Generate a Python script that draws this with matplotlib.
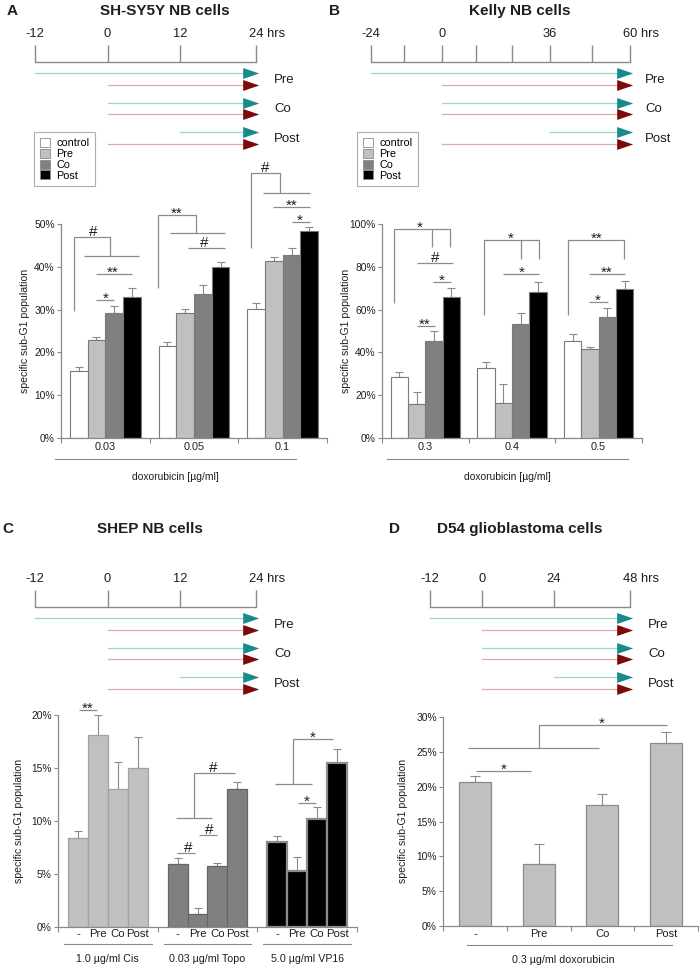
import numpy as np
import matplotlib
matplotlib.use('Agg')
import matplotlib.pyplot as plt
from matplotlib.patches import Patch
from matplotlib.lines import Line2D
from matplotlib.ticker import PercentFormatter, FixedLocator, NullFormatter, FixedFormatter
from matplotlib.transforms import blended_transform_factory

W, H = 700, 969
plt.rcParams['font.family'] = ['Liberation Sans', 'DejaVu Sans']

GRAY = '#8a8a8a'
SIG = '#8c8c8c'
TEXT = '#1e1e1e'
TEAL, TEAL_LINE = '#178a8a', '#9fd4d4'
RED, RED_LINE = '#7d0a0a', '#d9abab'

# ---------------- data ----------------
treatments = ['control', 'Pre', 'Co', 'Post']
treat_colors = ['white', '#c0c0c0', '#808080', 'black']

a_doses = ['0.03', '0.05', '0.1']
a_mean = [[15.6, 22.9, 29.2, 33.0], [21.5, 29.2, 33.6, 40.0], [30.2, 41.3, 42.8, 48.4]]
a_err = [[1.1, 0.8, 1.6, 2.0], [0.9, 0.9, 2.1, 1.1], [1.3, 1.1, 1.5, 0.9]]

b_doses = ['0.3', '0.4', '0.5']
b_mean = [[28.5, 15.9, 45.3, 65.7], [32.6, 16.4, 53.3, 68.2], [45.5, 41.5, 56.4, 69.5]]
b_err = [[2.2, 5.6, 4.7, 4.4], [2.9, 8.7, 5.1, 4.7], [3.0, 1.0, 4.2, 4.0]]

c_drugs = ['1.0 \u00b5g/ml Cis', '0.03 \u00b5g/ml Topo', '5.0 \u00b5g/ml VP16']
c_cats = ['-', 'Pre', 'Co', 'Post']
c_mean = [[8.4, 18.1, 13.0, 15.0], [5.9, 1.2, 5.8, 13.0], [8.0, 5.3, 10.2, 15.5]]
c_err = [[0.7, 1.9, 2.6, 2.9], [0.6, 0.6, 0.25, 0.7], [0.6, 1.3, 1.1, 1.3]]
c_colors = ['#c0c0c0', '#808080', 'black']
c_edges = ['#a2a2a2', '#666666', '#8c8c8c']

d_cats = ['-', 'Pre', 'Co', 'Post']
d_mean = [20.6, 8.9, 17.3, 26.3]
d_err = [1.0, 2.9, 1.7, 1.6]

# treatment schedules (hours)
a_hours = [-12, 0, 12, 24]
b_hours = [-24, -12, 0, 12, 24, 36, 48, 60]
b_labeled = [-24, 0, 36, 60]
d_hours = [-12, 0, 24, 48]
rows = ['Pre', 'Co', 'Post']
a_teal_start = [-12, 0, 12]
b_teal_start = [-24, 0, 36]
d_teal_start = [-12, 0, 24]

# significance brackets (x in group units, y in %)
a_sig_lines = [
    ([-0.353, -0.353, 0.053, 0.053], [29.6, 47.0, 47.0, 42.6]),
    ([-0.241, 0.380], [42.6, 42.6]),
    ([-0.105, 0.301], [38.3, 38.3]),
    ([-0.105, 0.098], [32.3, 32.3]),
    ([0.594, 0.594, 1.022, 1.022], [35.0, 52.2, 52.2, 47.9]),
    ([0.729, 1.350], [47.9, 47.9]),
    ([0.932, 1.350], [44.4, 44.4]),
    ([1.643, 1.643, 1.970, 1.970], [44.4, 61.8, 61.8, 57.2]),
    ([1.778, 2.308], [57.2, 57.2]),
    ([1.891, 2.308], [54.0, 54.0]),
    ([2.105, 2.308], [50.5, 50.5]),
]
a_sig_text = [(-0.139, 47.0, '#'), (0.086, 38.3, '**'), (0.0, 32.3, '*'),
              (0.808, 52.2, '**'), (1.113, 44.4, '#'), (1.80, 61.8, '#'),
              (2.105, 54.0, '**'), (2.195, 50.5, '*')]

b_sig_lines = [
    ([-0.362, -0.362, 0.285, 0.285], [63.0, 97.6, 97.6, 89.3]),
    ([0.077, 0.077], [97.6, 89.3]),
    ([-0.096, 0.319], [81.8, 81.8]),
    ([0.088, 0.296], [72.9, 72.9]),
    ([-0.096, 0.112], [52.2, 52.2]),
    ([0.677, 0.677, 1.311, 1.311], [57.6, 92.5, 92.5, 83.6]),
    ([1.104, 1.104], [92.5, 83.6]),
    ([0.896, 1.311], [76.8, 76.8]),
    ([1.646, 1.646, 2.292, 2.292], [57.6, 92.5, 92.5, 83.6]),
    ([1.888, 2.304], [76.8, 76.8]),
    ([1.888, 2.108], [63.4, 63.4]),
]
b_sig_text = [(-0.062, 97.6, '*'), (0.112, 81.8, '#'), (0.192, 72.9, '*'),
              (-0.004, 52.2, '**'), (0.988, 92.5, '*'), (1.115, 76.8, '*'),
              (1.981, 92.5, '**'), (2.096, 76.8, '**'), (1.992, 63.4, '*')]

c_sig_lines = [
    ([-0.289, -0.109], [20.5, 20.5]),
    ([0.684, 1.045], [10.33, 10.33]),
    ([0.865, 0.865, 1.276], [10.33, 14.5, 14.5]),
    ([0.694, 0.875], [7.0, 7.0]),
    ([0.915, 1.095], [8.66, 8.66]),
    ([1.677, 2.048], [13.45, 13.45]),
    ([1.858, 1.858, 2.259], [13.45, 17.7, 17.7]),
    ([1.908, 2.089], [11.7, 11.7]),
]
c_sig_text = [(-0.199, 20.5, '**'), (1.055, 14.5, '#'), (0.804, 7.0, '#'),
              (1.015, 8.66, '#'), (2.058, 17.7, '*'), (1.998, 11.7, '*')]

d_sig_lines = [
    ([0.016, 0.886], [22.3, 22.3]),
    ([-0.111, 1.946], [25.5, 25.5]),
    ([1.013, 1.013, 3.006], [25.5, 28.9, 28.9]),
]
d_sig_text = [(0.459, 22.3, '*'), (1.994, 28.9, '*')]


# ---------------- helpers ----------------
def px_axes(fig, left, top, right, bottom):
    return fig.add_axes([left / W, 1 - bottom / H, (right - left) / W, (bottom - top) / H])


def ftext(fig, x, y, s, **kw):
    kw.setdefault('color', TEXT)
    return fig.text(x / W, 1 - y / H, s, **kw)


def fline(fig, x0, x1, y):
    fig.add_artist(Line2D([x0 / W, x1 / W], [1 - y / H] * 2, transform=fig.transFigure,
                          color=GRAY, lw=0.8))


def piecewise(hours, px):
    h = np.asarray(hours, float)
    p = np.asarray(px, float)
    s0 = (p[1] - p[0]) / (h[1] - h[0])
    s1 = (p[-1] - p[-2]) / (h[-1] - h[-2])
    hh = np.concatenate([[h[0] - 1000], h, [h[-1] + 1000]])
    pp = np.concatenate([[p[0] - 1000 * s0], p, [p[-1] + 1000 * s1]])
    return (lambda x: np.interp(x, hh, pp)), (lambda y: np.interp(y, pp, hh))


ARROW = [(-2, -0.82), (0.4, 0), (-2, 0.82)]


def timeline(fig, hours, px, labeled, top, teal_start, label_x):
    fwd, inv = piecewise(hours, px)
    ax = fig.add_axes([0, 0, 1, 1], facecolor='none')
    ax.set_xscale('function', functions=(fwd, inv))
    ax.set_xlim(inv(0), inv(W))
    ax.set_ylim(H, 0)
    ax.axis('off')
    base = top + 28
    ax.plot([hours[0], hours[-1]], [base, base], color=GRAY, lw=1)
    ax.vlines(hours, top + 11, base, color=GRAY, lw=1)
    for h in labeled:
        if h == hours[-1]:
            ax.annotate(f'{h} hrs', (h, top), xytext=(-5.2, 0), textcoords='offset points',
                        ha='left', va='center', fontsize=9.3, color=TEXT)
        else:
            ax.text(h, top, str(h), ha='center', va='center', fontsize=9.3, color=TEXT)
    end = hours[-1]
    for i, (name, ts) in enumerate(zip(rows, teal_start)):
        y1 = base + 11 + i * 29.5
        y2 = y1 + 11.5
        ax.plot([ts, end], [y1, y1], color=TEAL_LINE, lw=0.9)
        ax.plot([0, end], [y2, y2], color=RED_LINE, lw=0.9)
        ax.plot([end], [y1], marker=ARROW, ms=19.2, color=TEAL, mew=0, ls='none')
        ax.plot([end], [y2], marker=ARROW, ms=19.2, color=RED, mew=0, ls='none')
        ftext(fig, label_x, (y1 + y2) / 2 + 1, name, fontsize=9.5, ha='left', va='center')
    return ax


def style_bar_axes(ax, ymax, ystep, ngroups_edges):
    for s in ('top', 'right'):
        ax.spines[s].set_visible(False)
    for s in ('left', 'bottom'):
        ax.spines[s].set_color(GRAY)
        ax.spines[s].set_linewidth(0.9)
    ax.set_ylim(0, ymax)
    ax.set_xlim(ngroups_edges[0], ngroups_edges[-1])
    ax.set_yticks(np.arange(0, ymax + 0.1, ystep))
    ax.yaxis.set_major_formatter(PercentFormatter(decimals=0))
    ax.tick_params(axis='y', length=3, width=0.8, color=GRAY, labelsize=7.4, pad=1.5,
                   labelcolor=TEXT)
    ax.xaxis.set_major_locator(FixedLocator(ngroups_edges))
    ax.xaxis.set_major_formatter(NullFormatter())
    ax.tick_params(axis='x', which='major', length=3.5, width=0.8, color=GRAY)
    ax.tick_params(axis='x', which='minor', length=0, labelcolor=TEXT)


def draw_sig(ax, lines, texts):
    for xs, ys in lines:
        ax.plot(xs, ys, color=SIG, lw=0.9, clip_on=False, solid_capstyle='butt')
    for x, y, s in texts:
        dy = -2.0 if '*' in s else 0.8
        ax.annotate(s, (x, y), xytext=(0, dy), textcoords='offset points', ha='center',
                    va='baseline', fontsize=11, color=TEXT, annotation_clip=False)


def grouped(ax, means, errs, width):
    means = np.asarray(means)
    errs = np.asarray(errs)
    ng, nb = means.shape
    for k in range(nb):
        x = np.arange(ng) + (k - (nb - 1) / 2) * width
        ax.errorbar(x, means[:, k], yerr=[np.zeros(ng), errs[:, k]], fmt='none',
                    ecolor=GRAY, elinewidth=0.8, capsize=3, capthick=0.8, zorder=1)
        ax.bar(x, means[:, k], width, color=treat_colors[k], edgecolor='#7a7a7a',
               linewidth=0.8, zorder=2)


fig = plt.figure(figsize=(W / 100, H / 100), dpi=100, facecolor='white')

# ---------------- panel titles ----------------
for x, y, s in [(12, 11, 'A'), (335, 11, 'B'), (8, 529, 'C'), (394, 529, 'D')]:
    ftext(fig, x, y, s, fontsize=11, fontweight='bold', ha='center', va='center')
for x, y, s in [(165, 11, 'SH-SY5Y NB cells'), (520, 11, 'Kelly NB cells'),
                (150, 529, 'SHEP NB cells'), (520, 529, 'D54 glioblastoma cells')]:
    ftext(fig, x, y, s, fontsize=11, fontweight='bold', ha='center', va='center')

# ---------------- timelines ----------------
timeline(fig, a_hours, [35, 107.5, 180, 256], a_hours, 34, a_teal_start, 274)
timeline(fig, b_hours, [371, 404, 442, 476, 512, 550, 592, 630], b_labeled, 34,
         b_teal_start, 645)
timeline(fig, a_hours, [35, 107.5, 180, 256], a_hours, 579, a_teal_start, 274)
timeline(fig, d_hours, [430, 482, 554, 630], d_hours, 579, d_teal_start, 648)

# ---------------- legends ----------------
handles = [Patch(facecolor=c, edgecolor='#8a8a8a', linewidth=0.6) for c in treat_colors]
for lx in (34, 357):
    leg = fig.legend(handles, treatments, loc='upper left',
                     bbox_to_anchor=(lx / W, 1 - 132 / H), frameon=True, fancybox=False,
                     edgecolor='#9a9a9a', fontsize=7.8, handlelength=0.9, handleheight=0.9,
                     handletextpad=0.6, labelspacing=0.05, borderpad=0.55,
                     borderaxespad=0)
    leg.get_frame().set_linewidth(0.8)

# ---------------- panel A ----------------
ax = px_axes(fig, 61, 224, 327, 438)
style_bar_axes(ax, 50, 10, [-0.5, 0.5, 1.5, 2.5])
grouped(ax, a_mean, a_err, 0.2)
ax.xaxis.set_minor_locator(FixedLocator(range(len(a_doses))))
ax.xaxis.set_minor_formatter(FixedFormatter(a_doses))
ax.tick_params(axis='x', which='minor', labelsize=7.8, pad=3)
draw_sig(ax, a_sig_lines, a_sig_text)
fline(fig, 55, 296, 459)
ftext(fig, 175, 477, 'doxorubicin [\u00b5g/ml]', fontsize=7.4, ha='center', va='center')
ftext(fig, 25, 331, 'specific sub-G1 population', fontsize=7.6, rotation=90,
      ha='center', va='center')

# ---------------- panel B ----------------
ax = px_axes(fig, 382, 224, 642, 438)
style_bar_axes(ax, 100, 20, [-0.5, 0.5, 1.5, 2.5])
grouped(ax, b_mean, b_err, 0.2)
ax.xaxis.set_minor_locator(FixedLocator(range(len(b_doses))))
ax.xaxis.set_minor_formatter(FixedFormatter(b_doses))
ax.tick_params(axis='x', which='minor', labelsize=7.8, pad=3)
draw_sig(ax, b_sig_lines, b_sig_text)
fline(fig, 387, 628, 459)
ftext(fig, 507, 477, 'doxorubicin [\u00b5g/ml]', fontsize=7.4, ha='center', va='center')
ftext(fig, 346, 331, 'specific sub-G1 population', fontsize=7.6, rotation=90,
      ha='center', va='center')

# ---------------- panel C ----------------
ax = px_axes(fig, 58, 715, 357, 927)
style_bar_axes(ax, 20, 5, [-0.5, 0.5, 1.5, 2.5])
cm = np.asarray(c_mean)
ce = np.asarray(c_err)
xs_all, labels_all = [], []
for g in range(len(c_drugs)):
    x = g + (np.arange(4) - 1.5) * 0.2
    ax.errorbar(x, cm[g], yerr=[np.zeros(4), ce[g]], fmt='none', ecolor=GRAY,
                elinewidth=0.8, capsize=3, capthick=0.8, zorder=1)
    lw = 1.6 if c_colors[g] == 'black' else 0.9
    ax.bar(x, cm[g], 0.2, color=c_colors[g], edgecolor=c_edges[g], linewidth=lw, zorder=2)
    xs_all.extend(x)
    labels_all.extend(c_cats)
ax.xaxis.set_minor_locator(FixedLocator(xs_all))
ax.xaxis.set_minor_formatter(FixedFormatter(labels_all))
ax.tick_params(axis='x', which='minor', labelsize=8.2, pad=1.5)
draw_sig(ax, c_sig_lines, c_sig_text)
tr = blended_transform_factory(ax.transData, ax.transAxes)
for g, name in enumerate(c_drugs):
    ax.plot([g - 0.44, g + 0.44], [-0.082, -0.082], transform=tr, color=GRAY, lw=0.8,
            clip_on=False)
    ax.text(g, -0.152, name, transform=tr, ha='center', va='center', fontsize=7.7,
            color=TEXT)
ftext(fig, 19, 821, 'specific sub-G1 population', fontsize=7.6, rotation=90,
      ha='center', va='center')

# ---------------- panel D ----------------
ax = px_axes(fig, 443, 717, 698, 926)
style_bar_axes(ax, 30, 5, [-0.5, 0.5, 1.5, 2.5, 3.5])
xd = np.arange(len(d_cats))
ax.errorbar(xd, d_mean, yerr=[np.zeros(len(d_mean)), d_err], fmt='none', ecolor=GRAY,
            elinewidth=0.8, capsize=3.5, capthick=0.8, zorder=1)
ax.bar(xd, d_mean, 0.5, color='#c0c0c0', edgecolor='#8a8a8a', linewidth=0.9, zorder=2)
ax.xaxis.set_minor_locator(FixedLocator(xd))
ax.xaxis.set_minor_formatter(FixedFormatter(d_cats))
ax.tick_params(axis='x', which='minor', labelsize=8, pad=2.5)
draw_sig(ax, d_sig_lines, d_sig_text)
fline(fig, 467, 672, 945)
ftext(fig, 563, 960, '0.3 \u00b5g/ml doxorubicin', fontsize=7.7, ha='center', va='center')
ftext(fig, 403, 821, 'specific sub-G1 population', fontsize=7.6, rotation=90,
      ha='center', va='center')

fig.savefig('out.png', dpi=100, facecolor='white')
